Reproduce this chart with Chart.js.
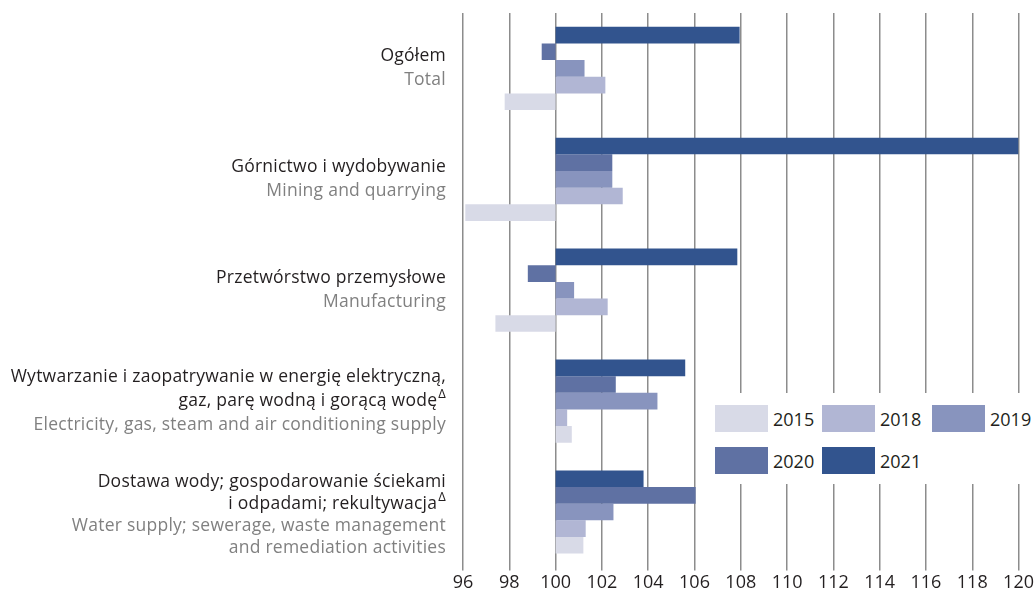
<!DOCTYPE html>
<html>
<head>
<meta charset="utf-8">
<script src="https://cdn.jsdelivr.net/npm/chart.js@4/dist/chart.umd.min.js"></script>
<style>
  body { margin: 0; background: #fff; }
  #wrap { position: relative; width: 1036px; height: 590px; }
  #legend {
    position: absolute; left: 706px; top: 393px; width: 330px; height: 91px;
    background: #fff; font-family: "Open Sans", sans-serif; font-size: 18px; color: #231f20;
  }
  .item { position: absolute; display: flex; align-items: center; }
  .sw { width: 53px; height: 27px; margin-right: 5px; }
</style>
</head>
<body>
<div id="wrap">
  <canvas id="chart" width="1036" height="590"></canvas>
  <div id="legend"></div>
</div>
<script>
const CATEGORIES = [
  { pl: ["Ogółem"], en: ["Total"] },
  { pl: ["Górnictwo i wydobywanie"], en: ["Mining and quarrying"] },
  { pl: ["Przetwórstwo przemysłowe"], en: ["Manufacturing"] },
  { pl: ["Wytwarzanie i zaopatrywanie w energię elektryczną,", "gaz, parę wodną i gorącą wodę"], en: ["Electricity, gas, steam and air conditioning supply"], delta: true },
  { pl: ["Dostawa wody; gospodarowanie ściekami", "i odpadami; rekultywacja"], en: ["Water supply; sewerage, waste management", "and remediation activities"], delta: true },
];

const YEARS = ["2021", "2020", "2019", "2018", "2015"];
const VALUES_2021 = [107.95, 120.0, 107.85, 105.6, 103.8];
const VALUES_2020 = [99.4, 102.45, 98.8, 102.6, 106.05];
const VALUES_2019 = [101.25, 102.45, 100.8, 104.4, 102.5];
const VALUES_2018 = [102.15, 102.9, 102.25, 100.5, 101.3];
const VALUES_2015 = [97.8, 96.1, 97.4, 100.7, 101.2];
const BASE = 100;
const X_TICKS = [96, 98, 100, 102, 104, 106, 108, 110, 112, 114, 116, 118, 120];

const COLORS = {
  "2021": "#32548e",
  "2020": "#5f71a3",
  "2019": "#8894be",
  "2018": "#b1b6d4",
  "2015": "#d8dae7",
};

const SERIES = [VALUES_2021, VALUES_2020, VALUES_2019, VALUES_2018, VALUES_2015];

// Category labels drawn next to the bars (two colours per label)
const labelPlugin = {
  id: "catLabels",
  afterDraw(chart) {
    const ctx = chart.ctx;
    const y = chart.scales.y;
    const right = 446;
    const font = '17.5px "Open Sans"';
    ctx.save();
    ctx.textAlign = "right";
    ctx.textBaseline = "middle";
    ctx.letterSpacing = "0.25px";
    ctx.font = font;
    CATEGORIES.forEach((c, i) => {
      const lines = c.pl.length + c.en.length;
      const lh = lines > 3 ? 22 : 24;
      const cy = y.getPixelForTick(i) + (lines > 3 ? 3 : 0);
      let ty = cy - ((lines - 1) * lh) / 2;
      c.pl.forEach((t, j) => {
        let r = right;
        if (c.delta && j === c.pl.length - 1) {
          ctx.font = '13px "Open Sans"';
          ctx.fillStyle = "#231f20";
          ctx.fillText("Δ", right, ty - 7);
          r = right - ctx.measureText("Δ").width - 1;
          ctx.font = font;
        }
        ctx.fillStyle = "#231f20";
        ctx.fillText(t, r, ty);
        ty += lh;
      });
      c.en.forEach((t) => {
        ctx.fillStyle = "#808080";
        ctx.fillText(t, right, ty);
        ty += lh;
      });
    });
    ctx.restore();
  },
};

const datasets = YEARS.map((yr, k) => ({
  label: yr,
  data: SERIES[k].map((v) => [BASE, v]),
  backgroundColor: COLORS[yr],
  borderWidth: 0,
  borderSkipped: false,
  categoryPercentage: 0.75,
  barPercentage: 1.0,
}));

new Chart(document.getElementById("chart"), {
  type: "bar",
  data: { labels: CATEGORIES.map((c) => c.pl[0]), datasets },
  options: {
    indexAxis: "y",
    responsive: false,
    animation: false,
    layout: { padding: { left: 455, right: 15, top: 13, bottom: -6 } },
    plugins: { legend: { display: false }, tooltip: { enabled: false } },
    scales: {
      x: {
        min: 96,
        max: 120,
        afterBuildTicks: (s) => { s.ticks = X_TICKS.map((v) => ({ value: v })); },
        grid: { color: "#8c8c8c", lineWidth: 1.5, tickLength: 3 },
        border: { display: false },
        ticks: { font: { family: "Open Sans", size: 18 }, color: "#231f20", padding: 2 },
      },
      y: {
        grid: { display: false },
        border: { display: false },
        ticks: { display: false },
      },
    },
  },
  plugins: [labelPlugin],
});

// Legend box (order 2015..2021, two rows)
const legend = document.getElementById("legend");
const LEGEND_POS = [
  ["2015", 9, 12], ["2018", 116, 12], ["2019", 226, 12],
  ["2020", 9, 54], ["2021", 116, 54],
];
LEGEND_POS.forEach(([yr, x, y]) => {
  const el = document.createElement("div");
  el.className = "item";
  el.style.left = x + "px";
  el.style.top = y + "px";
  el.innerHTML = `<div class="sw" style="background:${COLORS[yr]}"></div><span>${yr}</span>`;
  legend.appendChild(el);
});
</script>
</body>
</html>
